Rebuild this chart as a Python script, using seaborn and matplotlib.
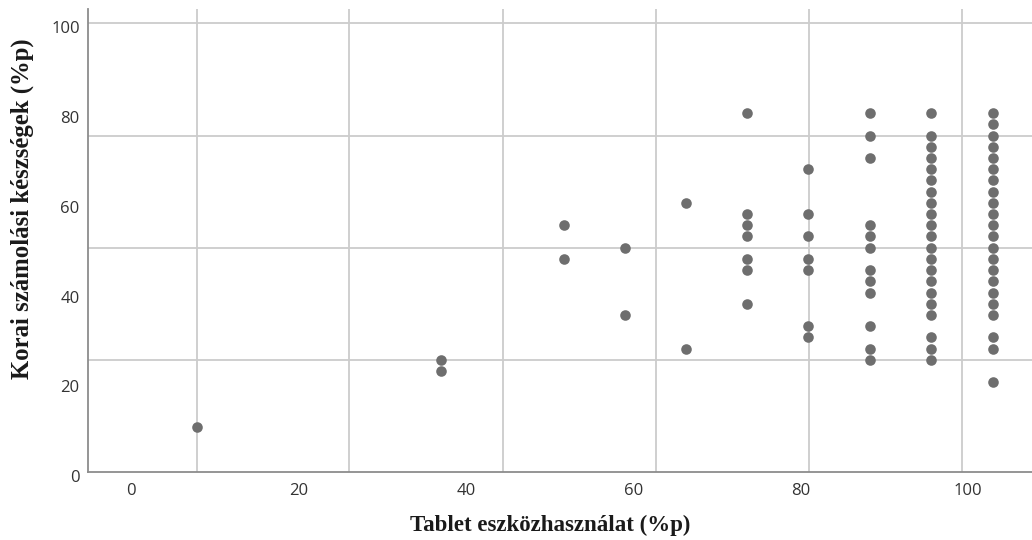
import matplotlib
matplotlib.use("Agg")
import matplotlib.pyplot as plt
import matplotlib.transforms as mtransforms
import numpy as np
import pandas as pd
import seaborn as sns

# Tablet use (%p) for each group of children, and their early numeracy scores (%p)
tablet_use = [7.9, 37.1, 51.7, 59.0, 66.3, 73.6, 80.9, 88.3, 95.5, 102.9]
numeracy_scores = [
    [10],
    [25, 22.5],
    [55, 47.5],
    [50, 35],
    [60, 27.5],
    [80, 57.5, 55, 52.5, 47.5, 45, 37.5],
    [67.5, 57.5, 52.5, 47.5, 45, 32.5, 30],
    [80, 75, 70, 55, 52.5, 50, 45, 42.5, 40, 32.5, 27.5, 25],
    [80, 75, 72.5, 70, 67.5, 65, 62.5, 60, 57.5, 55, 52.5, 50, 47.5, 45,
     42.5, 40, 37.5, 35, 30, 27.5, 25],
    [80, 77.5, 75, 72.5, 70, 67.5, 65, 62.5, 60, 57.5, 55, 52.5, 50, 47.5,
     45, 42.5, 40, 37.5, 35, 30, 27.5, 20],
]
x_ticks = [0, 20, 40, 60, 80, 100]
y_ticks = [0, 20, 40, 60, 80, 100]
x_grid = [7.9, 26.1, 44.5, 62.7, 81.0, 99.2]
y_grid = [25, 50, 75, 100]

x_label = "Tablet eszközhasználat (%p)"
y_label = "Korai számolási készségek (%p)"

df = pd.DataFrame(
    [(x, y) for x, ys in zip(tablet_use, numeracy_scores) for y in ys],
    columns=["tablet", "numeracy"],
)

sns.set_theme(style="white")
plt.rcParams["font.family"] = ["Open Sans", "DejaVu Sans"]

fig = plt.figure(figsize=(10.32, 5.40), dpi=100)
ax = fig.add_axes([88 / 1032, 68 / 540, 944 / 1032, 463 / 540])

for gx in x_grid:
    ax.axvline(gx, color="#cccccc", lw=1.3, zorder=0)
for gy in y_grid:
    ax.axhline(gy, color="#cccccc", lw=1.3, zorder=0)

sns.scatterplot(data=df, x="tablet", y="numeracy", ax=ax, s=58,
                color="#6e6e6e", linewidth=0, zorder=3, legend=False)

ax.set_xlim(-5.1, 107.6)
ax.set_ylim(0, 103.2)
ax.set_xticks(x_ticks)
ax.set_yticks(y_ticks)
ax.tick_params(axis="both", length=0, labelsize=12, labelcolor="#333333")
ax.tick_params(axis="x", pad=8)
ax.tick_params(axis="y", pad=6)

# nudge y tick labels slightly downward
offset = mtransforms.ScaledTranslation(0, -4 / 100, fig.dpi_scale_trans)
for lbl in ax.get_yticklabels():
    lbl.set_transform(lbl.get_transform() + offset)

for side in ["top", "right"]:
    ax.spines[side].set_visible(False)
for side in ["left", "bottom"]:
    ax.spines[side].set_color("#8c8c8c")
    ax.spines[side].set_linewidth(1.3)

ax.set_xlabel(x_label, fontfamily="Liberation Serif", fontweight="bold",
              fontsize=16.5, color="#1a1a1a")
ax.set_ylabel(y_label, fontfamily="Liberation Serif", fontweight="bold",
              fontsize=17.8, color="#1a1a1a")
ax.xaxis.set_label_coords(0.49, -0.093)
ax.yaxis.set_label_coords(-0.07, 0.568)
ax.yaxis.label.set_va("center")
ax.xaxis.label.set_va("top")

fig.savefig("out.png", dpi=100, facecolor="white")
